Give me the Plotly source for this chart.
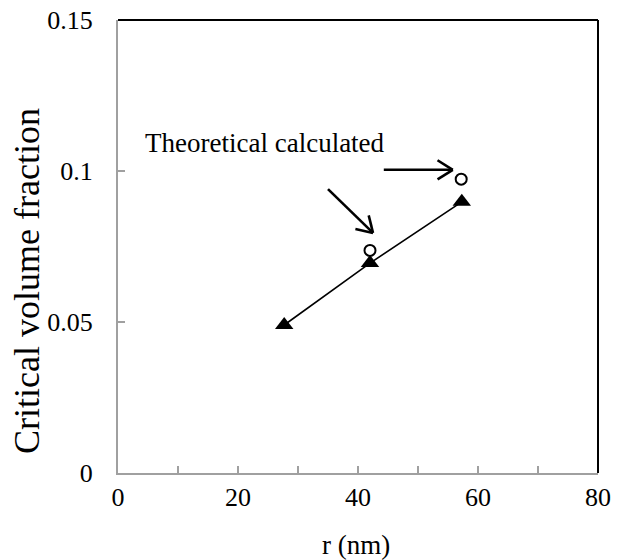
import math
import plotly.graph_objects as go

# ---- data ----
r_measured = [27.7, 42.0, 57.3]
phi_measured = [0.049, 0.0695, 0.0898]
r_theory = [42.0, 57.2]
phi_theory = [0.0737, 0.0973]

x_ticks = [0, 20, 40, 60, 80]
y_ticks = [0, 0.05, 0.1, 0.15]
y_tick_labels = ["0", "0.05", "0.1", "0.15"]

x_title = "r (nm)"
y_title = "Critical volume fraction"
label_text = "Theoretical calculated"
label_pos = (4.2, 0.1093)
# arrows: (tail x, tail y, tip x, tip y) in data units
arrows = [(44.3, 0.1004, 55.8, 0.1004), (35.0, 0.094, 42.5, 0.0795)]

W, H = 634, 560
OFF = 8  # page body margin
L, T = 118 - OFF, 20 - OFF
pw, ph = 480, 453
R, B = W - L - pw, H - T - ph
XR = (0, 80)
YR = (0, 0.15)
sx = pw / (XR[1] - XR[0])
sy = ph / (YR[1] - YR[0])

FONT = "Liberation Serif"

fig = go.Figure()
fig.add_trace(go.Scatter(
    x=r_measured, y=phi_measured, mode="lines+markers",
    line=dict(color="black", width=1.6),
    marker=dict(symbol="triangle-up", size=16, color="black"),
    showlegend=False, cliponaxis=False))
fig.add_trace(go.Scatter(
    x=r_theory, y=phi_theory, mode="markers",
    marker=dict(symbol="circle", size=11, color="white",
                line=dict(color="black", width=2)),
    showlegend=False, cliponaxis=False))

shapes = []
shapes.append(dict(type="line", xref="paper", yref="paper", x0=0, x1=1, y0=1, y1=1,
                   line=dict(color="black", width=2)))
shapes.append(dict(type="line", xref="paper", yref="paper", x0=1, x1=1, y0=0, y1=1,
                   line=dict(color="black", width=2)))

head_len = 18
head_ang = math.radians(32)
for (x0, y0, x1, y1) in arrows:
    shapes.append(dict(type="line", xref="x", yref="y", x0=x0, y0=y0, x1=x1, y1=y1,
                       line=dict(color="black", width=2.6)))
    dxp = (x1 - x0) * sx
    dyp = -(y1 - y0) * sy
    ang = math.atan2(dyp, dxp)
    for s in (1, -1):
        a = ang + math.pi + s * head_ang
        hx = x1 + head_len * math.cos(a) / sx
        hy = y1 - head_len * math.sin(a) / sy
        shapes.append(dict(type="line", xref="x", yref="y", x0=x1, y0=y1, x1=hx, y1=hy,
                           line=dict(color="black", width=2.6)))

annotations = [
    dict(x=label_pos[0], y=label_pos[1], xref="x", yref="y",
         text=label_text, showarrow=False, xanchor="left", yanchor="middle",
         font=dict(family=FONT, size=27, color="black")),
    dict(x=0.496, y=0, xref="paper", yref="paper", yshift=-72,
         text=x_title, showarrow=False, xanchor="center", yanchor="middle",
         font=dict(family=FONT, size=27, color="black")),
    dict(x=0, y=0.424, xref="paper", yref="paper", xshift=-91,
         text=y_title, showarrow=False, textangle=-90,
         xanchor="center", yanchor="middle",
         font=dict(family=FONT, size=36, color="black")),
]

fig.update_layout(
    width=W, height=H,
    margin=dict(l=L, r=R, t=T, b=B, autoexpand=False),
    paper_bgcolor="white", plot_bgcolor="white",
    font=dict(family=FONT, color="black", size=26),
    shapes=shapes, annotations=annotations,
)
fig.update_xaxes(
    range=list(XR), showgrid=False, zeroline=False, automargin=False,
    showline=True, linecolor="#a0a0a0", linewidth=2,
    tickmode="array", tickvals=x_ticks, ticktext=[str(v) for v in x_ticks],
    ticks="inside", ticklen=7, tickwidth=2, tickcolor="#a0a0a0",
    minor=dict(tickvals=[10, 30, 50, 70], ticks="inside", ticklen=7,
               tickwidth=2, tickcolor="#a0a0a0"),
    tickfont=dict(family=FONT, size=26, color="black"), ticklabelstandoff=0,
    ticklabeloverflow="allow",
)
fig.update_yaxes(
    range=list(YR), showgrid=False, zeroline=False, automargin=False,
    showline=True, linecolor="#a0a0a0", linewidth=2,
    tickmode="array", tickvals=y_ticks, ticktext=y_tick_labels,
    ticks="inside", ticklen=7, tickwidth=2, tickcolor="#a0a0a0",
    tickfont=dict(family=FONT, size=26, color="black"), ticklabelstandoff=18,
    ticklabeloverflow="allow",
)

fig.write_html("out.html")
